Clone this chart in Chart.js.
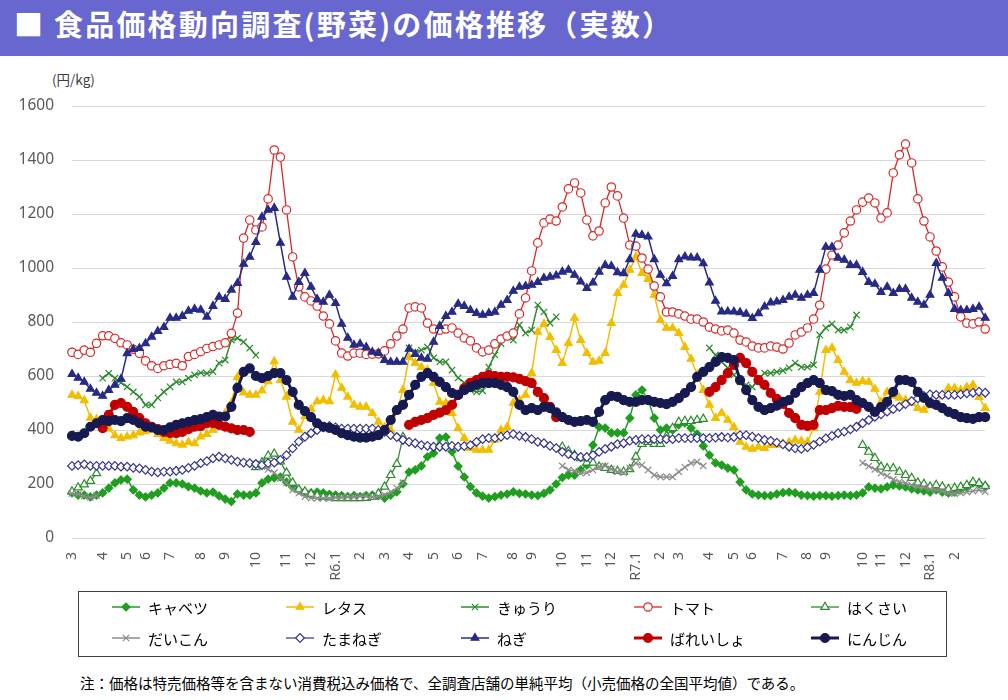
<!DOCTYPE html>
<html lang="ja">
<head>
<meta charset="utf-8">
<title>食品価格動向調査(野菜)の価格推移</title>
<script src="https://cdn.jsdelivr.net/npm/chart.js@4.4.1/dist/chart.umd.min.js"></script>
<style>
  html, body { margin: 0; padding: 0; background: #fff; }
  body { width: 1008px; height: 700px; position: relative; overflow: hidden;
         font-family: "Noto Sans CJK JP", "Noto Sans", sans-serif; }
  #header { position: absolute; left: 0; top: 0; width: 1008px; height: 56px; background: #6767cf; }
  #title { position: absolute; left: 14px; top: 2px; color: #fff; font-size: 29px; font-weight: bold;
           letter-spacing: 2.2px; white-space: nowrap; }
  #unit { position: absolute; left: 52px; top: 69px; font-size: 13.5px; color: #404040; }
  #chart-wrap { position: absolute; left: 0; top: 56px; width: 1008px; height: 610px; }
  #note { position: absolute; left: 80px; top: 672px; font-size: 14.5px; color: #000; white-space: nowrap; }
</style>
</head>
<body>
<div id="header"><div id="title">■ 食品価格動向調査(野菜)の価格推移（実数）</div></div>
<div id="unit">(円/kg)</div>
<div id="chart-wrap"><canvas id="chart"></canvas></div>
<div id="note">注：価格は特売価格等を含まない消費税込み価格で、全調査店舗の単純平均（小売価格の全国平均値）である。</div>

<script>
// month labels on the x axis and how many weekly surveys fall in each month
const monthTicks = ['3','4','5','6','7','8','9','10','11','12','R6.1','2','3','4','5','6','7','8','9','10','11','12',
                    'R7.1','2','3','4','5','6','7','8','9','10','11','12','R8.1','2'];
const weeksPerMonth = [5,4,3,4,5,4,5,5,4,4, 4,4,4,4,4,4,5,3,5,4, 4,4,4,3,5,4,3,5,4,3, 6,3,4,4,4,6];

// full-period series (円/kg)
const cabbage = [167,159,159,152,159,167,185,204,215,218,178,159,152,159,167,185,204,204,200,190,
  185,174,167,170,156,144,135,163,159,159,167,204,218,223,226,207,189,178,170,167,170,167,162,
  159,157,153,157,153,157,159,157,148,159,171,200,244,252,267,301,314,370,374,320,266,226,190,167,155,148,
  153,159,163,171,165,163,159,157,165,178,
  200,224,233,233,252,270,344,411,407,389,389,389,444,530,548,511,444,400,407,400,419,426,407,385,341,307,
  278,270,259,252,207,178,163,159,157,157,
  163,168,170,167,159,157,155,157,157,155,157,159,157,159,167,189,185,182,189,196,193,189,182,178,174,170,
  178,170,167,170,178,189,204,200,192];
const lettuce = [530,525,510,445,440,430,405,380,370,375,380,390,395,400,385,370,360,350,345,355,350,375,
  385,400,425,462,500,
  596,538,530,530,546,580,654,585,523,430,400,450,478,506,511,506,605,
  556,523,493,486,486,462,430,410,400,470,548,670,648,633,622,574,504,500,462,407,370,333,326,326,326,363,
  400,411,500,511,530,611,763,793,744,696,648,
  722,815,733,685,652,656,685,796,907,937,993,1041,981,959,900,807,778,778,759,707,663,605,548,493,444,463,
  437,411,356,337,330,337,333,344,345,350,355,
  363,359,356,407,541,696,704,659,615,585,574,581,578,552,504,541,525,519,511,500,481,474,490,493,530,555,
  555,548,559,567,522,481];
const tomato = [688,680,696,688,721,749,749,739,723,715,699,684,656,638,628,638,643,647,638,672,680,690,702,
  709,715,723,758,
  833,1111,1178,1141,1152,1256,1437,1411,1215,1041,930,893,878,859,822,
  793,730,685,674,685,685,680,681,682,693,719,748,774,852,856,852,796,774,770,774,778,759,741,730,704,689,
  696,719,737,748,759,830,889,989,1093,1167,1181,1174,1226,
  1293,1315,1278,1178,1119,1137,1241,1300,1267,1185,1085,1081,1037,996,933,893,837,837,830,822,811,811,800,
  781,774,767,770,759,733,726,711,704,704,711,707,700,722,752,763,778,811,863,996,1048,1085,1130,1174,1215,
  1244,1259,1241,1185,1204,1352,1419,1459,1389,1256,1174,1115,1063,1004,948,893,819,796,793,800,774];
const onion = [267,270,273,267,267,267,267,267,264,264,260,258,252,246,243,246,246,249,252,260,267,277,285,295,
  301,295,289,283,279,277,274,270,277,279,289,307,332,357,375,388,400,410,415,
  410,405,405,405,405,405,405,400,393,381,374,363,356,351,344,341,338,338,338,341,338,340,344,356,366,370,
  370,375,381,385,378,374,366,356,351,341,
  333,319,311,304,300,300,307,319,330,338,348,351,360,363,366,366,366,366,366,366,370,370,370,370,370,370,
  372,374,372,374,381,381,375,370,363,360,
  353,347,338,332,330,336,345,357,369,378,388,394,402,412,425,437,449,458,468,477,486,496,507,517,526,532,
  530,530,530,530,532,536,538,542,538];
const negi = [607,593,578,552,537,526,548,567,589,684,699,703,721,745,766,781,815,815,822,841,848,845,819,859,
  893,885,919,944,1015,1041,1096,1189,1215,1222,1093,967,893,948,981,930,885,874,900,870,
  793,741,715,719,707,689,685,659,652,652,652,700,681,667,663,726,785,822,837,867,859,844,833,826,833,837,
  863,881,915,930,933,937,948,963,967,
  972,986,993,974,949,925,946,986,1011,1007,984,980,1032,1126,1122,1116,1032,974,943,970,1032,1042,1038,1038,
  1017,946,878,838,839,838,836,830,814,832,857,872,875,
  881,893,900,889,900,907,993,1078,1078,1037,1030,1011,1011,985,948,941,911,930,907,922,922,889,874,863,900,
  1018,963,907,848,844,844,848,856,815];
const carrot = [378,375,388,412,425,437,433,437,433,444,437,425,412,410,400,400,410,419,425,430,437,440,448,456,
  450,450,486,556,615,628,600,592,600,611,611,585,541,493,470,448,425,412,408,
  400,388,381,375,372,372,375,381,400,437,474,493,530,567,597,611,597,578,559,537,530,548,559,567,574,574,
  574,567,559,541,493,474,481,474,486,481,
  465,448,437,430,433,437,430,467,511,526,523,511,504,504,511,511,504,500,496,504,518,537,559,597,615,633,
  652,670,667,659,585,548,511,486,474,481,
  490,504,511,537,559,574,585,574,548,544,530,526,530,511,500,486,467,485,504,541,585,585,578,541,519,500,
  493,481,467,459,448,444,441,448,448];

// seasonal series: [first week index, values]
const cucumber = [
  [5, [592,610,592,575,560,541,523,493,493,519,541,560,578,578,592,604,612,610,616,648,659,733,740,726,703,677]],
  [55, [704,689,696,707,667,652,652,622,593,575,548,541,545,633,678,720,744,733,789,759,770,863,837,796,819]],
  [104, [704,678,652,630,604,578,567,559,590,611,611,615,620,630,648,633,633,641,752,778,793,770,770,781,826]]
];
const hakusai = [
  [0, [172,187,198,211,240]],
  [30, [262,280,305,312,283,242,205,180,172,163,157,152,150,147,147,147,147,147,148,152,165,190,233,274,374]],
  [80, [338,322,307,295,279,279,264,259,252,248,245,255,301,348,356,348,348,378,407,430,433,433,437,441]],
  [129, [344,319,296,264,258,258,245,233,222,205,200,190,196,190,181,185,189,196,207,203,193]]
];
const daikon = [
  [0, [165,162,155,150,157]],
  [30, [274,264,254,242,221,204,178,166,153,148,147,147,147,150,150,152,152,155,155,152,155,160,170,185,205]],
  [80, [267,252,249,240,242,252,264,267,255,245,242,259,277,270,252,233,226,226,226,245,262,277,282,267]],
  [129, [278,266,254,240,230,217,208,203,196,190,188,181,178,174,167,164,167,170,174,178,172]]
];
const potato = [
  [5, [407,456,493,500,486,467,444,425,412,403,393,388,388,393,403,412,414,425,425,419,412,406,400,400,393]],
  [55, [419,430,437,444,456,464,474,493,530,555,575,585,597,604,600,597,597,595,589,581,574,541,518,486,448]],
  [104, [541,559,585,611,641,667,648,615,585,567,537,515,497,463,444,419,415,419,474,474,481,489,486,485,478]]
];

// build weekly labels: month name on the first week, blanks after
const labels = [];
monthTicks.forEach(function(m, i) {
    labels.push(m);
    for (let k = 1; k < weeksPerMonth[i]; k++) labels.push('');
});

function fromSegments(segs) {
    const arr = new Array(labels.length).fill(null);
    segs.forEach(function(seg) {
        seg[1].forEach(function(v, k) { arr[seg[0] + k] = v; });
    });
    return arr;
}

const series = [
    { name: 'キャベツ', data: cabbage, color: '#1f9e1f', fill: '#1f9e1f', style: 'rectRot', r: 4, w: 1.5 },
    { name: 'レタス', data: lettuce, color: '#f2be00', fill: '#f2be00', style: 'triangle', r: 4.5, w: 1.5 },
    { name: 'きゅうり', data: fromSegments(cucumber), color: '#2e8b2e', fill: '#2e8b2e', style: 'crossRot', r: 4.5, w: 1.5 },
    { name: 'トマト', data: tomato, color: '#d42a2a', fill: '#ffffff', style: 'circle', r: 4.2, w: 1.3 },
    { name: 'はくさい', data: fromSegments(hakusai), color: '#2e8b2e', fill: '#ffffff', style: 'triangle', r: 4.8, w: 1.3 },
    { name: 'だいこん', data: fromSegments(daikon), color: '#8c8c8c', fill: '#8c8c8c', style: 'crossRot', r: 4.5, w: 1.5 },
    { name: 'たまねぎ', data: onion, color: '#353590', fill: '#ffffff', style: 'rectRot', r: 4.3, w: 1.2 },
    { name: 'ねぎ', data: negi, color: '#272b85', fill: '#272b85', style: 'triangle', r: 4.5, w: 1.5 },
    { name: 'ばれいしょ', data: fromSegments(potato), color: '#c00000', fill: '#c00000', style: 'circle', r: 4.5, w: 3 },
    { name: 'にんじん', data: carrot, color: '#161a50', fill: '#161a50', style: 'circle', r: 4.5, w: 3 }
];

// legend drawn inside the canvas, below the plot
const legendPlugin = {
    id: 'boxLegend',
    afterDraw(chart) {
        const ctx = chart.ctx;
        const top = 535, left = 78, width = 868, height = 65;
        ctx.save();
        ctx.strokeStyle = '#404040';
        ctx.lineWidth = 1;
        ctx.strokeRect(left + 0.5, top + 0.5, width, height);
        const cols = [126, 300, 475, 648, 825];
        const rows = [top + 16, top + 47];
        series.forEach(function(s, i) {
            const cx = cols[i % 5], cy = rows[Math.floor(i / 5)];
            ctx.strokeStyle = s.color;
            ctx.lineWidth = s.w;
            ctx.beginPath();
            ctx.moveTo(cx - 14, cy);
            ctx.lineTo(cx + 14, cy);
            ctx.stroke();
            ctx.fillStyle = s.fill;
            ctx.strokeStyle = s.color;
            ctx.lineWidth = 1.2;
            Chart.helpers.drawPoint(ctx, { pointStyle: s.style, radius: s.r, rotation: 0, borderWidth: 1.2 }, cx, cy);
            ctx.fillStyle = '#000';
            ctx.font = '15px "Noto Sans CJK JP"';
            ctx.textBaseline = 'middle';
            ctx.fillText(s.name, cx + 22, cy + 1);
        });
        ctx.restore();
    }
};

const n = series.length;
new Chart(document.getElementById('chart'), {
    type: 'line',
    data: {
        labels: labels,
        datasets: series.map(function(s, i) {
            return {
                label: s.name,
                data: s.data,
                borderColor: s.color,
                backgroundColor: s.fill,
                borderWidth: s.w,
                pointStyle: s.style,
                pointRadius: s.r,
                pointBorderWidth: 1.2,
                pointBackgroundColor: s.fill,
                pointBorderColor: s.color,
                tension: 0,
                spanGaps: false,
                order: n - i
            };
        })
    },
    options: {
        responsive: true,
        maintainAspectRatio: false,
        animation: false,
        layout: { padding: { top: 50, right: 12, bottom: 72, left: 0 } },
        plugins: {
            legend: { display: false },
            tooltip: { enabled: false }
        },
        scales: {
            x: {
                grid: { display: false },
                border: { display: false },
                ticks: {
                    autoSkip: false,
                    minRotation: 90,
                    maxRotation: 90,
                    padding: 6,
                    color: '#595959',
                    font: { family: '"Noto Sans", "Noto Sans CJK JP"', size: 14 }
                },
                afterFit(scale) { scale.height = 56; }
            },
            y: {
                min: 0,
                max: 1600,
                grid: { color: '#d9d9d9', drawTicks: false },
                border: { display: false },
                ticks: {
                    stepSize: 200,
                    padding: 18,
                    color: '#595959',
                    font: { family: '"Noto Sans", "Noto Sans CJK JP"', size: 15.5 },
                    callback: function(v) { return String(v); }
                },
                afterFit(scale) { scale.width = 72; }
            }
        }
    },
    plugins: [legendPlugin]
});
</script>
</body>
</html>
